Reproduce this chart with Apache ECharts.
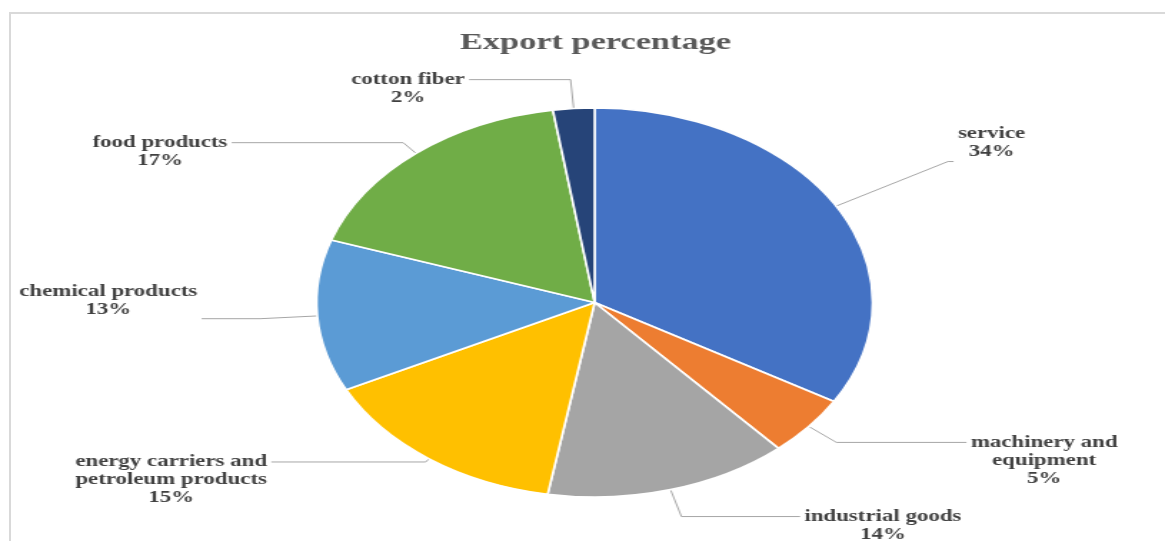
<!DOCTYPE html>
<html>
<head>
<meta charset="utf-8">
<script src="https://cdn.jsdelivr.net/npm/echarts@6/dist/echarts.min.js"></script>
<style>
  html, body { margin: 0; padding: 0; background: #ffffff; }
  body { width: 1165px; height: 541px; position: relative; overflow: hidden; }
  #frame { position: absolute; left: 9px; top: 12px; right: -4px; bottom: -4px;
           border-left: 2px solid #d9d9d9; border-top: 2px solid #d9d9d9; }
  #chart { position: absolute; left: 0; top: 0; width: 815px; height: 541px;
           transform: scaleX(1.4294); transform-origin: 0 0; }
</style>
</head>
<body>
<div id="frame"></div>
<div id="chart"></div>
<script>
// ---- data ----
const categories = [
  'service',
  'machinery and\nequipment',
  'industrial goods',
  'energy carriers and\npetroleum products',
  'chemical products',
  'food products',
  'cotton fiber'
];
const values = [33.5, 5.0, 14.2, 14.9, 12.6, 17.4, 2.4];
const titleText = 'Export percentage';

// ---- styles ----
const colors = ['#4472C4', '#ED7D31', '#A5A5A5', '#FFC000', '#5B9BD5', '#70AD47', '#264478'];
const lineLen  = [90, 25, 28, 4, 40, 14, 29];
const lineLen2 = [4, 91, 83, 108, 41, 120, 71];
const labelPad = [[0,0,38,0],[36,0,0,0],[18,0,0,0],[36,0,0,0],[0,0,36,0],[18,0,0,0],[18,0,0,0]];

const fontFamily = '"Liberation Serif", "DejaVu Serif", "Times New Roman", serif';

const seriesData = categories.map((name, i) => ({
  name: name,
  value: values[i],
  itemStyle: { color: colors[i] },
  labelLine: { length: lineLen[i], length2: lineLen2[i] },
  label: { padding: labelPad[i] }
}));

const chart = echarts.init(document.getElementById('chart'), null, { renderer: 'canvas' });
chart.setOption({
  animation: false,
  backgroundColor: 'transparent',
  title: {
    text: titleText,
    left: '50.5%',
    textAlign: 'center',
    top: 26,
    textStyle: { fontFamily: fontFamily, fontSize: 24, fontWeight: 'bold', color: '#595959' }
  },
  series: [{
    type: 'pie',
    center: [416, 302.5],
    radius: 194.5,
    startAngle: 90,
    clockwise: true,
    avoidLabelOverlap: false,
    itemStyle: { borderColor: '#ffffff', borderWidth: 1.6 },
    label: {
      show: true,
      position: 'outside',
      alignTo: 'none',
      distanceToLabelLine: 3,
      overflow: 'none',
      formatter: function (p) {
        const lines = p.name.split('\n').map(s => '{c|' + s + '}');
        lines.push('{c|' + Math.round(p.percent) + '%}');
        return lines.join('\n');
      },
      rich: {
        c: { align: 'center', fontFamily: fontFamily, fontSize: 16, fontWeight: 'bold',
             color: '#404040', lineHeight: 18 }
      }
    },
    labelLine: {
      show: true,
      smooth: false,
      lineStyle: { color: '#a6a6a6', width: 1 }
    },
    data: seriesData
  }]
});
</script>
</body>
</html>
